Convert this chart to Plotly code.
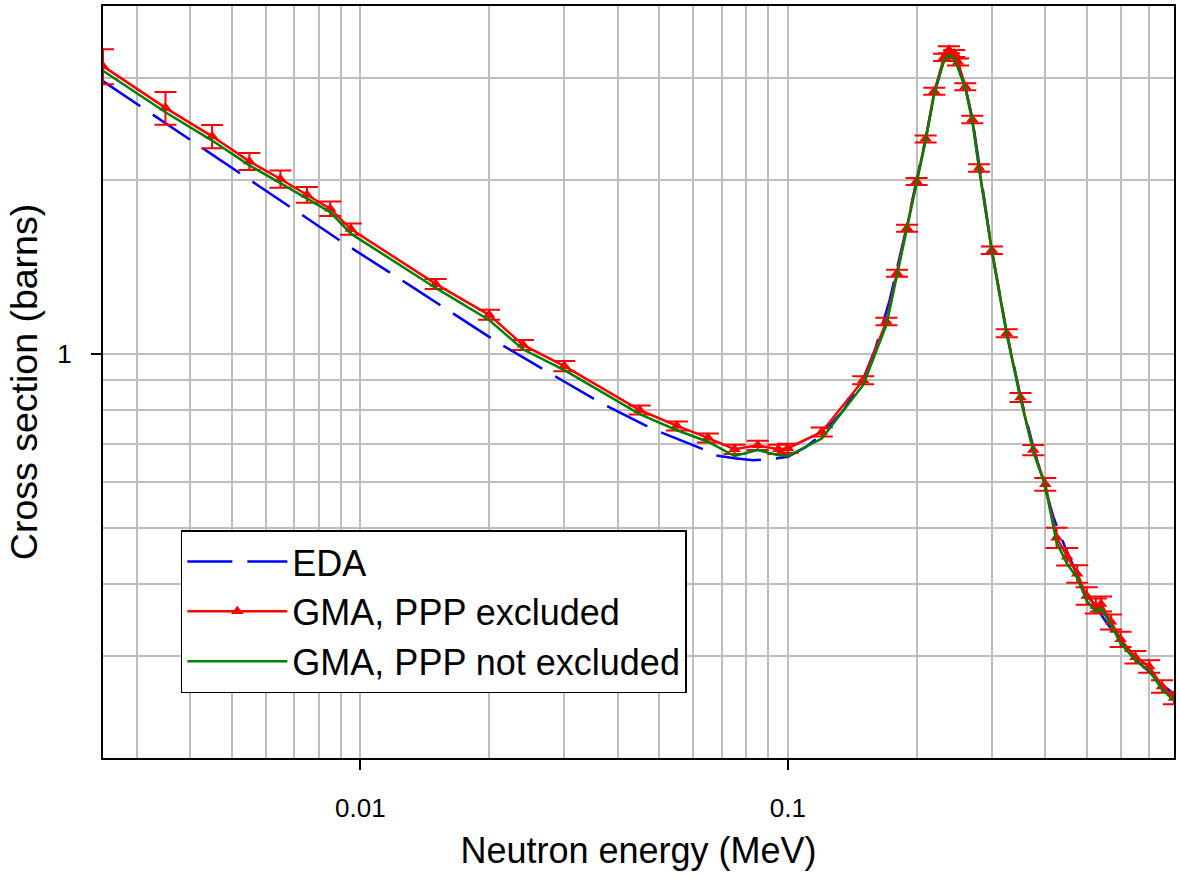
import plotly.graph_objects as go

# ---- data ----
energy_gma = [0.0025, 0.0035, 0.0045, 0.0055, 0.0065, 0.0075, 0.0085, 0.0095, 0.015, 0.02,
              0.024, 0.03, 0.045, 0.055, 0.065, 0.075, 0.085, 0.095, 0.1, 0.12,
              0.15, 0.17, 0.18, 0.19, 0.2, 0.21, 0.22, 0.232, 0.238, 0.245,
              0.25, 0.26, 0.27, 0.28, 0.3, 0.325, 0.35, 0.375, 0.4, 0.425,
              0.45, 0.475, 0.5, 0.525, 0.54, 0.57, 0.6, 0.65, 0.7, 0.75, 0.8]

xs_ppp_excluded = [3.148, 2.666, 2.380, 2.154, 2.008, 1.886, 1.784, 1.645, 1.322, 1.169,
                   1.037, 0.953, 0.800, 0.751, 0.716, 0.684, 0.695, 0.684, 0.687, 0.733,
                   0.901, 1.138, 1.380, 1.651, 1.989, 2.356, 2.849, 3.26, 3.36, 3.31,
                   3.20, 2.899, 2.545, 2.098, 1.512, 1.086, 0.841, 0.682, 0.595, 0.481,
                   0.446, 0.4165, 0.3815, 0.3665, 0.3695, 0.344, 0.321, 0.2988, 0.288, 0.266, 0.254]

rel_unc_pct = [7.0, 6.5, 4.6, 3.4, 3.4, 3.1, 2.9, 2.2, 2.0, 2.0,
               2.0, 2.0, 1.8, 1.8, 1.8, 1.8, 1.8, 1.8, 1.8, 1.8,
               1.6, 1.5, 1.4, 1.4, 1.4, 1.4, 1.4, 1.4, 1.4, 1.4,
               1.4, 1.4, 1.5, 1.5, 1.5, 1.6, 1.8, 2.0, 2.5, 4.0,
               3.5, 3.5, 3.5, 3.0, 3.0, 3.0, 3.0, 2.5, 2.5, 2.5, 2.5]

xs_ppp_not_excluded = [3.09, 2.62, 2.34, 2.12, 1.975, 1.855, 1.760, 1.615, 1.301, 1.145,
                       1.019, 0.938, 0.787, 0.738, 0.705, 0.666, 0.682, 0.668, 0.666, 0.714,
                       0.884, 1.123, 1.37, 1.64, 1.98, 2.34, 2.82, 3.22, 3.29, 3.24,
                       3.12, 2.88, 2.53, 2.09, 1.50, 1.08, 0.836, 0.678, 0.590, 0.472,
                       0.433, 0.410, 0.374, 0.358, 0.363, 0.340, 0.316, 0.295, 0.283, 0.263, 0.251]

energy_eda = [0.0025, 0.0035, 0.0045, 0.0055, 0.007, 0.0092, 0.013, 0.021, 0.028, 0.0365,
              0.048, 0.0635, 0.0675, 0.075, 0.083, 0.09, 0.1, 0.11, 0.12, 0.135,
              0.15, 0.16, 0.173, 0.18, 0.19, 0.2, 0.21, 0.22, 0.23, 0.236,
              0.24, 0.25, 0.26, 0.27, 0.28, 0.3, 0.325, 0.35, 0.375, 0.4,
              0.418, 0.445, 0.478, 0.5, 0.552, 0.6, 0.65, 0.7, 0.75, 0.8]
xs_eda = [2.965, 2.507, 2.216, 2.003, 1.776, 1.551, 1.317, 1.046, 0.923, 0.823,
          0.743, 0.684, 0.668, 0.660, 0.655, 0.657, 0.664, 0.690, 0.725, 0.800,
          0.905, 1.02, 1.24, 1.40, 1.67, 2.00, 2.36, 2.82, 3.18, 3.29,
          3.28, 3.16, 2.90, 2.56, 2.12, 1.51, 1.09, 0.845, 0.690, 0.585,
          0.522, 0.463, 0.411, 0.385, 0.346, 0.318, 0.296, 0.282, 0.268, 0.258]

x_tick_vals = [0.01, 0.1]
x_tick_text = ["0.01", "0.1"]
y_tick_vals = [1]
y_tick_text = ["1"]
x_grid_vals = [0.003, 0.004, 0.005, 0.006, 0.007, 0.008, 0.009,
               0.02, 0.03, 0.04, 0.05, 0.06, 0.07, 0.08, 0.09,
               0.2, 0.3, 0.4, 0.5, 0.6, 0.7]
y_grid_vals = [0.3, 0.4, 0.5, 0.6, 0.7, 0.8, 0.9, 2, 3]

err_abs = [v * p / 100.0 for v, p in zip(xs_ppp_excluded, rel_unc_pct)]

FONT = "Liberation Sans, Arial, sans-serif"
GRID = "#BEBEBE"

fig = go.Figure()
fig.add_trace(go.Scatter(
    x=energy_eda, y=xs_eda, mode="lines", name="EDA",
    line=dict(color="#0000FF", width=2.5, dash="45px,15px"),
))
fig.add_trace(go.Scatter(
    x=energy_gma, y=xs_ppp_excluded, mode="lines+markers", name="GMA, PPP excluded",
    line=dict(color="#FF0000", width=2.5),
    marker=dict(symbol="triangle-up", size=11, color="#FF0000"),
    error_y=dict(type="data", array=err_abs, visible=True, color="#FF0000",
                 thickness=2, width=11),
))
fig.add_trace(go.Scatter(
    x=energy_gma, y=xs_ppp_not_excluded, mode="lines", name="GMA, PPP not excluded",
    line=dict(color="#008000", width=2.5),
))

axis_common = dict(
    showline=True, linecolor="black", linewidth=2, mirror=True,
    ticks="outside", ticklen=10, tickwidth=1.5, tickcolor="black",
    showgrid=True, gridcolor=GRID, gridwidth=2, zeroline=False,
    tickfont=dict(family=FONT, size=26, color="black"),
)

fig.update_xaxes(
    type="log", range=[-2.60206, -0.09691],
    tickmode="array", tickvals=x_tick_vals, ticktext=x_tick_text,
    ticklabelstandoff=16,
    title=dict(text="Neutron energy (MeV)", font=dict(family=FONT, size=36, color="black"),
               standoff=16),
    minor=dict(tickmode="array", tickvals=x_grid_vals, showgrid=True,
               gridcolor=GRID, gridwidth=2, ticks=""),
    **axis_common,
)
fig.update_yaxes(
    type="log", range=[-0.69897, 0.60206],
    tickmode="array", tickvals=y_tick_vals, ticktext=y_tick_text,
    ticklabelstandoff=14,
    title=dict(text="Cross section (barns)", font=dict(family=FONT, size=37.5, color="black"),
               standoff=8),
    minor=dict(tickmode="array", tickvals=y_grid_vals, showgrid=True,
               gridcolor=GRID, gridwidth=2, ticks=""),
    **axis_common,
)

fig.update_layout(
    width=1179, height=877,
    margin=dict(l=103, r=3, t=6, b=119),
    paper_bgcolor="white", plot_bgcolor="white",
    showlegend=True,
    legend=dict(
        x=0.0727, y=0.303, xanchor="left", yanchor="top",
        bgcolor="white", bordercolor="black", borderwidth=1.5,
        font=dict(family=FONT, size=36, color="black"),
        itemwidth=100,
    ),
)

fig.write_html("out.html", config={"displayModeBar": False},
               post_script="document.body.style.margin='0px';")
